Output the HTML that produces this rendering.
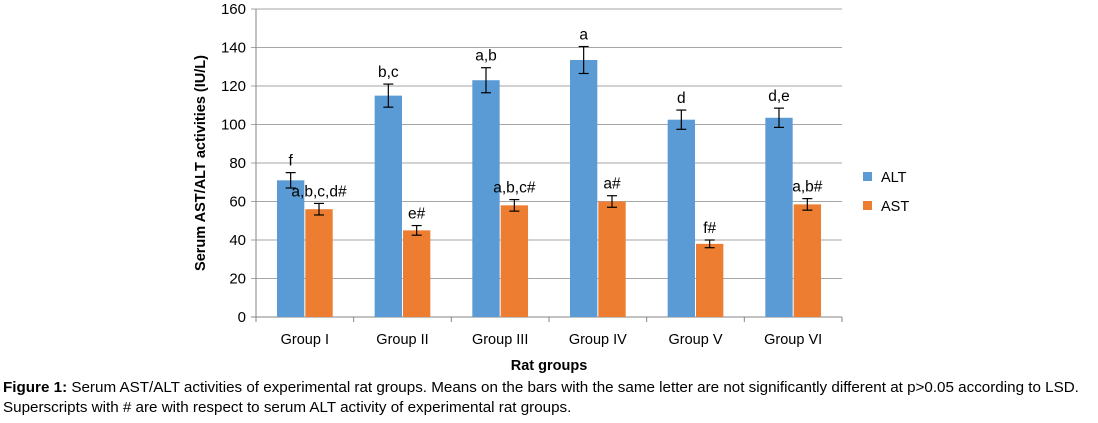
<!DOCTYPE html>
<html><head><meta charset="utf-8"><style>
body{margin:0;background:#fff;width:1098px;height:423px;overflow:hidden;font-family:"Liberation Sans",sans-serif}
svg text{font-family:"Liberation Sans",sans-serif}
.cap{position:absolute;left:3px;top:378px;font-size:15.2px;line-height:20px;color:#000;white-space:nowrap}
</style></head><body>
<svg id="chart" width="1098" height="375" style="position:absolute;left:0;top:0"></svg>
<div class="cap"><b>Figure 1:</b> Serum AST/ALT activities of experimental rat groups. Means on the bars with the same letter are not significantly different at p&gt;0.05 according to LSD.<br>Superscripts with # are with respect to serum ALT activity of experimental rat groups.</div>
<script>
const categories=["Group I","Group II","Group III","Group IV","Group V","Group VI"];
const altValues=[71,115,123,133.5,102.5,103.5];
const altErrors=[4,6,6.5,7,5,5];
const altLabels=["f","b,c","a,b","a","d","d,e"];
const astValues=[56,45,58,60,38,58.5];
const astErrors=[3,2.5,3,3,2,3];
const astLabels=["a,b,c,d#","e#","a,b,c#","a#","f#","a,b#"];
const yTicks=[0,20,40,60,80,100,120,140,160];
const NS="http://www.w3.org/2000/svg";
const svg=document.getElementById('chart');
const x0=256,x1=842,y0=317,y1=9,yMax=160;
const gw=(x1-x0)/categories.length;
const y=v=>y0-(v/yMax)*(y0-y1);
const gx=i=>x0+gw*i;
function mk(t,a){const e=document.createElementNS(NS,t);for(const k in a)e.setAttribute(k,a[k]);svg.appendChild(e);return e;}
yTicks.forEach(t=>{
 const l=mk('line',{x1:x0-5,x2:x1,y1:y(t),y2:y(t),stroke:t===0?'#868686':'#a6a6a6','stroke-width':1});
 
 
 const tx=mk('text',{x:x0-10,y:y(t)+5,'text-anchor':'end','font-size':15,fill:'#000'});
 tx.textContent=t;
 
 
});
const ax=mk('line',{x1:x0,x2:x0,y1:y1,y2:y0,stroke:'#868686'});


for(let i=0;i<=categories.length;i++){
 const tk=mk('line',{x1:gx(i),x2:gx(i),y1:y0,y2:y0+5,stroke:'#868686'});
 
 
}
const bw=gw*0.28;
function bar(i,v,err,lab,color,off,name){
 const cx=gx(i)+gw/2+off;
 const r=mk('rect',{x:cx-bw/2,y:y(v),width:bw,height:y0-y(v),fill:color});
 
 
 const g=[[cx,y(v+err),cx,y(v-err)],[cx-5,y(v+err),cx+5,y(v+err)],[cx-5,y(v-err),cx+5,y(v-err)]];
 g.forEach(p=>{const e=mk('line',{x1:p[0],y1:p[1],x2:p[2],y2:p[3],stroke:'#000','stroke-width':1.2});
  
  });
 const t=mk('text',{x:cx,y:y(v+err)-7,'text-anchor':'middle','font-size':15.5,fill:'#000'});
 t.textContent=lab;
 
 
}
categories.forEach((c,i)=>{
 bar(i,altValues[i],altErrors[i],altLabels[i],'#5b9bd5',-bw/2-0.5,'alt');
 bar(i,astValues[i],astErrors[i],astLabels[i],'#ed7d31',bw/2+0.5,'ast');
 const t=mk('text',{x:gx(i)+gw/2,y:344,'text-anchor':'middle','font-size':14.5,fill:'#000'});
 t.textContent=c;
 
 
});
const xt=mk('text',{x:(x0+x1)/2,y:370,'text-anchor':'middle','font-size':14.5,'font-weight':'bold'});
xt.textContent='Rat groups';


const yt=mk('text',{x:0,y:0,'text-anchor':'middle','font-size':14.5,'font-weight':'bold',transform:'translate(205,163) rotate(-90)'});
yt.textContent='Serum AST/ALT activities (IU/L)';


[['ALT','#5b9bd5',177],['AST','#ed7d31',206]].forEach(d=>{
 const r=mk('rect',{x:863,y:d[2]-5,width:9,height:9,fill:d[1]});
 
 
 const t=mk('text',{x:881,y:d[2]+5,'font-size':14.5});
 t.textContent=d[0];
 
 
});
</script>
</body></html>
